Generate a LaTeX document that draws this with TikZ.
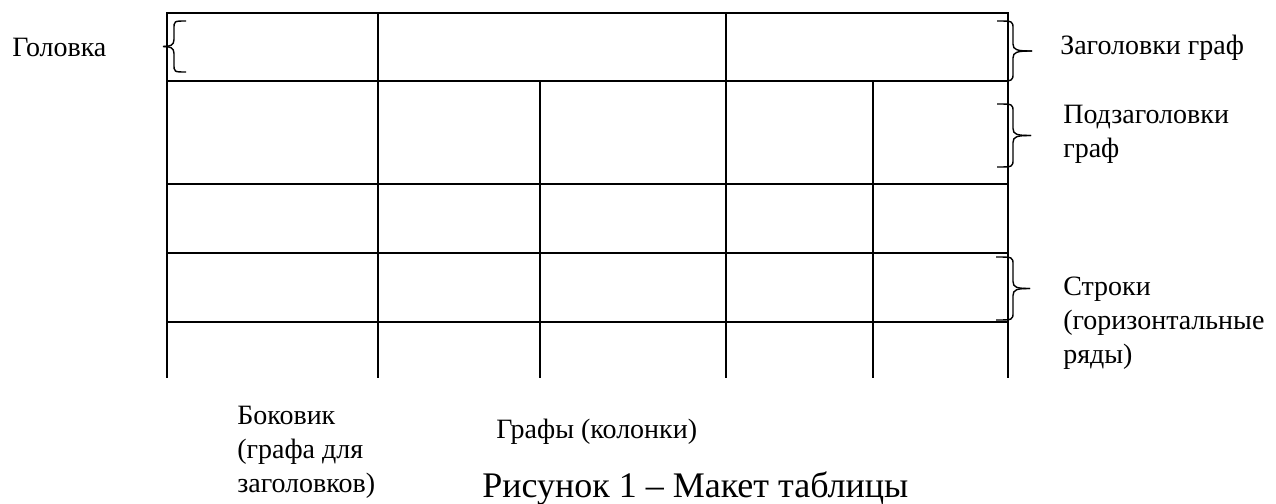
\documentclass[tikz,border=0pt]{standalone}
\usepackage{fontspec}
\setmainfont{Liberation Serif}
\newfontfamily\timesru{Liberation Serif}
\newcommand\mybraceR[5]{% x hook, x vertical, x tip, top, bottom
  \draw[brace] (#1,#4) .. controls (#2,#4) and (#2,#4) .. (#2,{#4+8}) -- (#2,{(#4+#5)/2-7}) .. controls (#2,{(#4+#5)/2-1}) and ({#2+4},{(#4+#5)/2}) .. (#3,{(#4+#5)/2});
  \draw[brace] (#1,#5) .. controls (#2,#5) and (#2,#5) .. (#2,{#5-8}) -- (#2,{(#4+#5)/2+7}) .. controls (#2,{(#4+#5)/2+1}) and ({#2+4},{(#4+#5)/2}) .. (#3,{(#4+#5)/2});
}
\begin{document}
\begin{tikzpicture}[x=0.75pt,y=-0.75pt,
  grid/.style={line width=1.5pt,line cap=rect},
  brace/.style={line width=1.05pt},
  lbl/.style={anchor=base west,inner sep=0pt,align=left,font=\timesru\fontsize{21}{25.5}\selectfont},
  captxt/.style={anchor=base west,inner sep=0pt,font=\timesru\fontsize{27}{32}\selectfont}]
\useasboundingbox (0,0) rectangle (1276,503);
% table grid
\foreach \y in {13,81,184,253,322} \draw[grid] (167,\y) -- (1008,\y);
\foreach \x in {167,378,726,1008} \draw[grid] (\x,13) -- (\x,377);
\foreach \x in {540,873} \draw[grid] (\x,81) -- (\x,377);
% left brace
\draw[brace] (186,21) .. controls (174,21) and (174,21) .. (174,29) -- (174,39.5) .. controls (174,45.5) and (170,46.5) .. (163,46.5);
\draw[brace] (186,72) .. controls (174,72) and (174,72) .. (174,64) -- (174,53.5) .. controls (174,47.5) and (170,46.5) .. (163,46.5);
% right braces
\mybraceR{997}{1013}{1032}{21}{81}
\mybraceR{997}{1013}{1031}{104}{167}
\mybraceR{996}{1013}{1030}{257}{320}
% labels (base anchor = baseline of the last line)
\node[lbl] (golovka) at (12,57) {Головка};
\node[lbl] (zag) at (1060,55) {Заголовки граф};
\node[lbl] (podzag) at (1063,157) {Подзаголовки\\граф};
\node[lbl] (stroki) at (1063,363) {Строки\\(горизонтальные\\ряды)};
\node[lbl] (bokovik) at (237,492) {Боковик\\(графа для\\заголовков)};
\node[lbl] (grafy) at (496,438) {Графы (колонки)};
\node[captxt] (caption) at (482,497) {Рисунок 1 – Макет таблицы};
\end{tikzpicture}
\end{document}
